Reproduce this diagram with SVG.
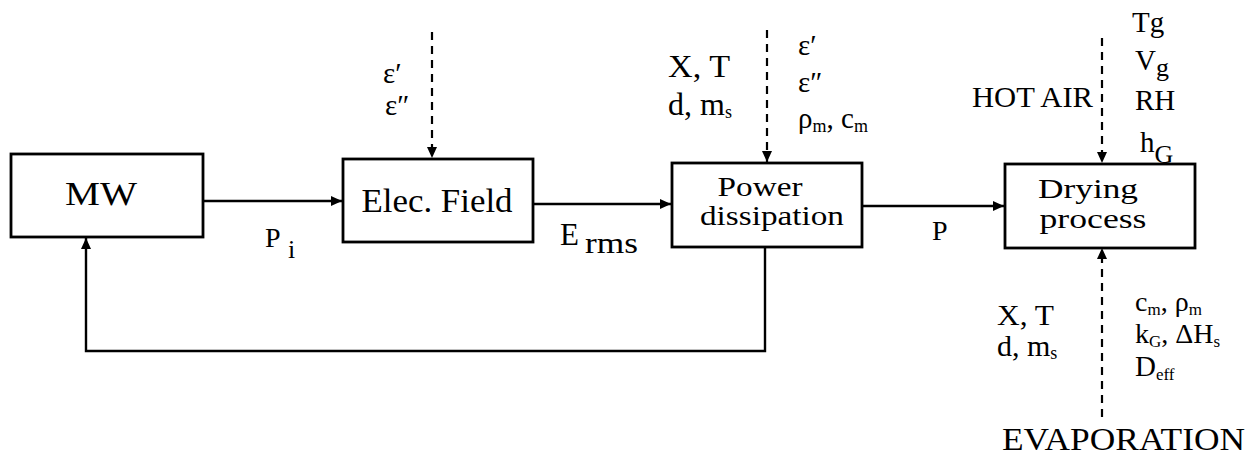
<svg xmlns="http://www.w3.org/2000/svg" width="1252" height="455" viewBox="0 0 1252 455">
<style>
text{font-family:'Liberation Serif','DejaVu Serif',serif;fill:#000}
.box{fill:#fff;stroke:#000;stroke-width:2.8}
.ln{fill:none;stroke:#000;stroke-width:2.4}
.dash{fill:none;stroke:#000;stroke-width:2.2;stroke-dasharray:8 6}
</style>
<defs>
<marker id="ah" markerUnits="userSpaceOnUse" markerWidth="12" markerHeight="10" refX="11" refY="5" orient="auto">
<path d="M0,0 L11,5 L0,10 z" fill="#000"/>
</marker>
</defs>
<rect width="1252" height="455" fill="#fff"/>

<g id="connectors">
<path class="ln" d="M203,201 H342" marker-end="url(#ah)"/>
<path class="ln" d="M533,204 H671" marker-end="url(#ah)"/>
<path class="ln" d="M862,206 H1004" marker-end="url(#ah)"/>
<path class="ln" d="M765,247 V351 H86 V238" marker-end="url(#ah)"/>
<path class="dash" d="M432,32 V158" marker-end="url(#ah)"/>
<path class="dash" d="M767,30 V162" marker-end="url(#ah)"/>
<path class="dash" d="M1102,38 V163" marker-end="url(#ah)"/>
<path class="dash" d="M1102,417 V248" marker-end="url(#ah)"/>
</g>

<g id="node-mw">
<rect class="box" x="11" y="154" width="192" height="83"/>
<text x="101" y="205" font-size="34" text-anchor="middle" textLength="72" lengthAdjust="spacingAndGlyphs">MW</text>
</g>

<g id="node-elec">
<rect class="box" x="343" y="159" width="190" height="83"/>
<text x="437" y="212" font-size="33" text-anchor="middle" textLength="151" lengthAdjust="spacingAndGlyphs">Elec. Field</text>
</g>

<g id="node-power">
<rect class="box" x="672" y="163" width="190" height="84"/>
<text x="760" y="196" font-size="27" text-anchor="middle" textLength="85" lengthAdjust="spacingAndGlyphs">Power</text>
<text x="772" y="225" font-size="27" text-anchor="middle" textLength="144" lengthAdjust="spacingAndGlyphs">dissipation</text>
</g>

<g id="node-drying">
<rect class="box" x="1005" y="164" width="190" height="84"/>
<text x="1088" y="198" font-size="27" text-anchor="middle" textLength="100" lengthAdjust="spacingAndGlyphs">Drying</text>
<text x="1093" y="228" font-size="27" text-anchor="middle" textLength="107" lengthAdjust="spacingAndGlyphs">process</text>
</g>

<g id="labels-flow">
<text x="265" y="247" font-size="28">P</text>
<text x="288" y="258" font-size="26">i</text>
<text x="560" y="245" font-size="31">E</text>
<text x="585" y="253" font-size="30" textLength="53" lengthAdjust="spacingAndGlyphs">rms</text>
<text x="932" y="240" font-size="28">P</text>
</g>

<g id="labels-elec">
<text x="383" y="83" font-size="29">ε′</text>
<text x="385" y="115" font-size="29">ε″</text>
</g>

<g id="labels-power">
<text x="668" y="77" font-size="32" textLength="62" lengthAdjust="spacingAndGlyphs">X, T</text>
<text x="668" y="115" font-size="32">d, m<tspan font-size="18" dy="3">s</tspan></text>
<text x="798" y="55" font-size="29">ε′</text>
<text x="798" y="92" font-size="29">ε″</text>
<text x="798" y="128" font-size="29">ρ<tspan font-size="18" dy="4">m</tspan><tspan dy="-4">, c</tspan><tspan font-size="18" dy="4">m</tspan></text>
</g>

<g id="labels-drying-top">
<text x="1132" y="32" font-size="29">Tg</text>
<text x="1135" y="70" font-size="29">V<tspan font-size="26" dy="6">g</tspan></text>
<text x="1135" y="110" font-size="29">RH</text>
<text x="1140" y="152" font-size="29">h<tspan font-size="26" dy="11">G</tspan></text>
<text x="972" y="107" font-size="30" textLength="121" lengthAdjust="spacingAndGlyphs">HOT AIR</text>
</g>

<g id="labels-drying-bottom">
<text x="997" y="325" font-size="30" textLength="57" lengthAdjust="spacingAndGlyphs">X, T</text>
<text x="997" y="356" font-size="30">d, m<tspan font-size="18" dy="3">s</tspan></text>
<text x="1135" y="311" font-size="28">c<tspan font-size="17" dy="4">m</tspan><tspan dy="-4">, ρ</tspan><tspan font-size="17" dy="4">m</tspan></text>
<text x="1135" y="343" font-size="28">k<tspan font-size="17" dy="4">G</tspan><tspan dy="-4">, ΔH</tspan><tspan font-size="17" dy="4">s</tspan></text>
<text x="1135" y="376" font-size="29">D<tspan font-size="17" dy="4">eff</tspan></text>
<text x="1002" y="450" font-size="32" textLength="243" lengthAdjust="spacingAndGlyphs">EVAPORATION</text>
</g>
</svg>
